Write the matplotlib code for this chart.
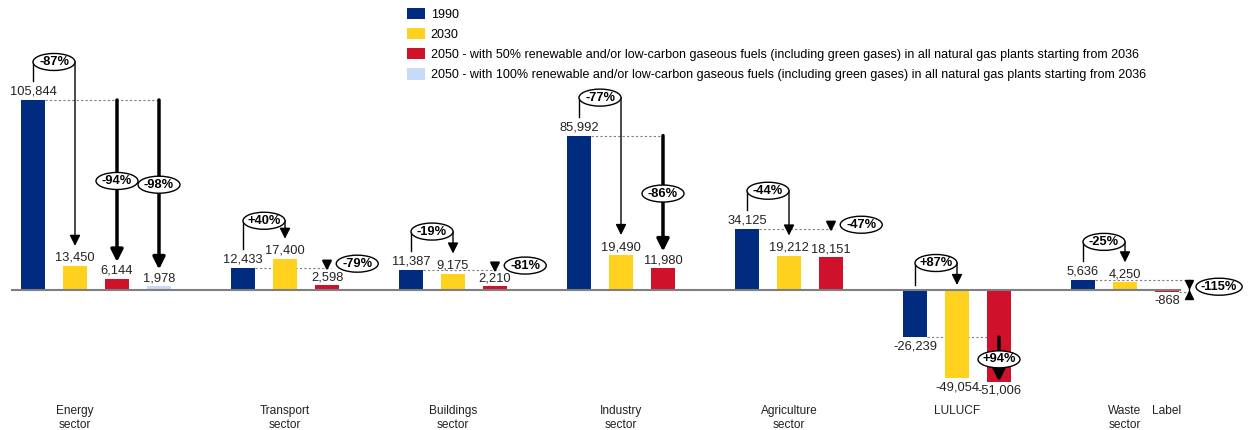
import numpy as np
import matplotlib.pyplot as plt
from matplotlib.patches import Ellipse, Patch

# ---------- Data ----------
sectors = ["Energy\nsector", "Transport\nsector", "Buildings\nsector", "Industry\nsector",
           "Agriculture\nsector", "LULUCF", "Waste\nsector"]
v1990 = [105844, 12433, 11387, 85992, 34125, -26239, 5636]
v2030 = [13450, 17400, 9175, 19490, 19212, -49054, 4250]
v2050 = [6144, 2598, 2210, 11980, 18151, -51006, -868]
v2050_full = [1978, None, None, None, None, None, None]

chg_2030 = ["-87%", "+40%", "-19%", "-77%", "-44%", "+87%", "-25%"]
chg_2050 = ["-94%", "-79%", "-81%", "-86%", "-47%", "+94%", "-115%"]
chg_2050_full = ["-98%", None, None, None, None, None, None]

legend_labels = [
    "1990",
    "2030",
    "2050 - with 50% renewable and/or low-carbon gaseous fuels (including green gases) in all natural gas plants starting from 2036",
    "2050 - with 100% renewable and/or low-carbon gaseous fuels (including green gases) in all natural gas plants starting from 2036",
]
extra_label = "Label"

# ---------- Style ----------
colors = ["#002B7F", "#FFD21F", "#D0112B", "#C9DAF8"]
plt.rcParams['font.family'] = ['Liberation Sans', 'DejaVu Sans']
W, H = 1251, 430
PX = 557.0          # data units per pixel on y
BAR_W = 0.55
FS = 9.3
CAT_FS = 8.6

fig = plt.figure(figsize=(W / 100, H / 100), dpi=100)
ax = fig.add_axes([0, 0, 1, 1])
ax.set_xlim(-33 / 42, (W - 33) / 42)
ax.set_ylim(-140 * PX, 290 * PX)
ax.axis('off')


def oval(x, y, text, width=1.0):
    ax.add_patch(Ellipse((x, y), width, 17 * PX, facecolor='white',
                         edgecolor='black', lw=1, zorder=6))
    ax.text(x, y, text, ha='center', va='center', fontsize=FS,
            fontweight='bold', zorder=7)


def arrow(x, y0, y1, lw=1.0, scale=16):
    ax.annotate("", xy=(x, y1), xytext=(x, y0), zorder=5,
                arrowprops=dict(arrowstyle='-|>', color='black', lw=lw,
                                mutation_scale=scale, shrinkA=0, shrinkB=0))


def dashed(x0, x1, y):
    ax.plot([x0, x1], [y, y], color='#7f7f7f', lw=0.8, ls=(0, (2, 2)), zorder=1)


def value_label(x, v):
    if v >= 0:
        ax.text(x, v + 2 * PX, f"{v:,}", ha='center', va='bottom', fontsize=FS,
                color='#222222', zorder=4)
    else:
        ax.text(x, v - 3 * PX, f"{v:,}", ha='center', va='top', fontsize=FS,
                color='#222222', zorder=4)


start = 0
for i in range(len(sectors)):
    series = [v1990[i], v2030[i], v2050[i]]
    if v2050_full[i] is not None:
        series.append(v2050_full[i])
    xs = start + np.arange(len(series))
    for k, (x, v) in enumerate(zip(xs, series)):
        ax.bar(x, v, width=BAR_W, color=colors[k], zorder=2)
        value_label(x, v)

    ax.text(start + 1, -115 * PX, sectors[i], ha='center', va='top', fontsize=CAT_FS,
            linespacing=1.25, color='#222222')

    # 1990 -> 2030 bracket
    b, y = v1990[i], v2030[i]
    top = max(b, y)
    ey = top + 38 * PX if top > 0 else 27 * PX
    left_bottom = b + 19 * PX if b > 0 else 5 * PX
    tip = y + 20 * PX if y > 0 else 5 * PX
    ax.plot([start, start], [left_bottom, ey], color='black', lw=1, zorder=5)
    arrow(start + 1, ey, tip)
    oval(start + 0.5, ey, chg_2030[i])

    # 1990 -> 2050 arrows
    targets = [(start + 2, v2050[i], chg_2050[i])]
    if v2050_full[i] is not None:
        targets.append((start + 3, v2050_full[i], chg_2050_full[i]))
    last_x = targets[-1][0]
    wide = 1.1 if len(chg_2050[i]) > 4 else 1.0
    if abs(v2050[i] - b) > 20000:
        dashed(start + BAR_W / 2, last_x, b)
        for x, v, lab in targets:
            t = v + 17 * PX if v > 0 else v
            arrow(x, b, t, lw=2.5, scale=18)
            oval(x, (b + t) / 2, lab)
    else:
        x, v, lab = targets[0]
        if v < 0 < b:
            ax_x = x + 0.52
            dashed(start + BAR_W / 2, ax_x, b)
            dashed(x + BAR_W / 2, ax_x, v)
            ax.plot([ax_x, ax_x], [b, v], color='black', lw=1, zorder=5)
            ax.plot(ax_x, b - 4 * PX, marker='v', color='black', ms=6, zorder=5)
            ax.plot(ax_x, v - 3 * PX, marker='^', color='black', ms=6, zorder=5)
            oval(ax_x + 0.72, (b + v) / 2 - 1 * PX, lab, wide)
        else:
            dashed(start + BAR_W / 2, x + 0.1, b)
            arrow(x, b + 6 * PX, b - 3 * PX, lw=1.5, scale=14)
            oval(x + 0.72, b + 4 * PX, lab, wide)

    last_start = start
    start += len(series) + 1

# stray label next to the last sector
ax.text(last_start + 2, -115 * PX, extra_label, ha='center', va='top', fontsize=CAT_FS,
        color='#222222')

# zero line
ax.plot([-0.5, last_start + 2.3], [0, 0], color='#7f7f7f', lw=1.5, zorder=3)

handles = [Patch(facecolor=c, edgecolor='none') for c in colors]
ax.legend(handles, legend_labels, loc='upper left',
          bbox_to_anchor=(407 / W, 1 - 8 / H), frameon=False, fontsize=9,
          handlelength=1.45, handleheight=1.0, handletextpad=0.45,
          labelspacing=0.58, borderpad=0, borderaxespad=0)

fig.savefig("out.png", dpi=100)
